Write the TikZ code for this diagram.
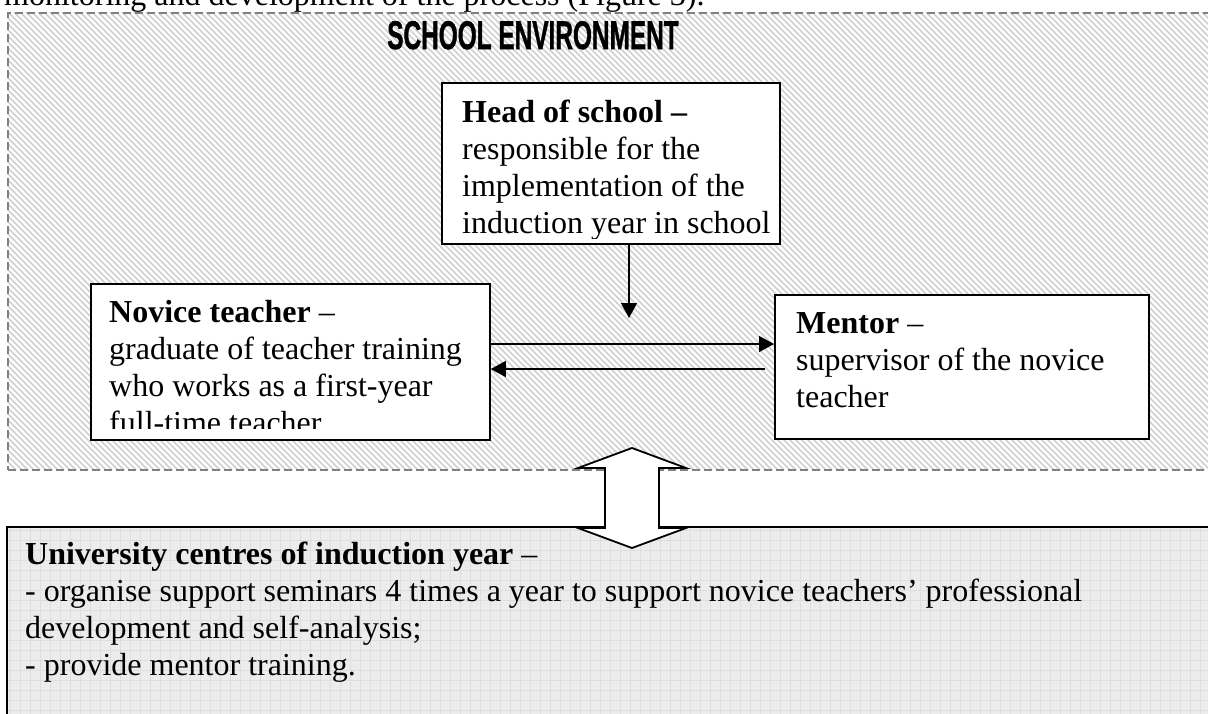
\documentclass[tikz,border=0pt]{standalone}
\usepackage{fontspec}
\setmainfont{Liberation Serif}
\newfontfamily\titlefont[FakeBold=1.5]{Liberation Sans Bold}
\usetikzlibrary{arrows.meta}

\definecolor{hatchgray}{RGB}{208,208,208}
\definecolor{framegray}{RGB}{128,128,128}
\definecolor{unifill}{RGB}{236,236,236}
\definecolor{unigrid}{RGB}{222,222,222}

\newcommand{\bodysize}{\fontsize{32}{37.3}\selectfont}
\newcommand{\boxlines}[1]{\parbox[t]{40cm}{\bodysize\raggedright #1}}

\begin{document}
\begin{tikzpicture}[x=1pt,y=-1pt,
  textbox/.style={draw=black, line width=1.8pt, fill=white, anchor=north west, inner sep=0pt},
  boxtext/.style={anchor=base west, inner sep=0pt},
  link/.style={line width=1.4pt, -{Triangle[length=15pt,width=16pt]}},
]
\useasboundingbox (0,0) rectangle (1208,713);

% last line of the running text above the figure
\node[boxtext] (caption) at (4,5) {\bodysize monitoring and development of the process (Figure 3).};

% school environment: hatched area with dashed frame
\begin{scope}
  \clip (7,12) rectangle (1220,469);
  \fill[white] (7,12) rectangle (1220,469);
  \foreach \i in {-460,-454,...,1220}
    \draw[hatchgray, line width=1.5pt] (\i,12) -- ++(460,460);
\end{scope}
\node[draw=framegray, dash pattern=on 8pt off 4pt, line width=1.6pt,
      anchor=north west, minimum width=1213pt, minimum height=457pt,
      inner sep=0pt] (school) at (7,12) {};

\node[anchor=base, inner sep=0pt,
      font=\titlefont\fontsize{40}{44}\selectfont] (title) at (533,49)
      {\scalebox{0.61}[1]{SCHOOL ENVIRONMENT}};

% university box: light grey grid paper
\begin{scope}
  \clip (6,526) rectangle (1220,720);
  \fill[unifill] (6,526) rectangle (1220,720);
  \foreach \i in {10,20,...,1220}
    \draw[unigrid, line width=0.7pt] (\i,526) -- (\i,720);
  \foreach \j in {530,540,...,720}
    \draw[unigrid, line width=0.7pt] (6,\j) -- (1220,\j);
\end{scope}
\node[draw=black, line width=1.8pt, anchor=north west, minimum width=1214pt,
      minimum height=200pt, inner sep=0pt] (uni) at (6,526) {};
\node[boxtext] (unitext) at (25,564) {\boxlines{%
  \textbf{University centres of induction year} --\\
  - organise support seminars 4 times a year to support novice teachers' professional\\
  development and self-analysis;\\
  - provide mentor training.}};

% the three actors
\node[textbox, minimum width=338pt, minimum height=161pt] (head) at (441,82) {};
\begin{scope}
  \clip (441,82) rectangle (779,238);
  \node[boxtext] (headtext) at (462,122) {\boxlines{%
    \textbf{Head of school --}\\
    responsible for the\\
    implementation of the\\
    induction year in school}};
\end{scope}

\node[textbox, minimum width=399pt, minimum height=156pt] (novice) at (90,283) {};
\begin{scope}
  \clip (90,283) rectangle (489,428);
  \node[boxtext] (novicetext) at (109,322) {\boxlines{%
    \textbf{Novice teacher} --\\
    graduate of teacher training\\
    who works as a first-year\\
    full-time teacher}};
\end{scope}

\node[textbox, minimum width=374pt, minimum height=144pt] (mentor) at (774,294) {};
\node[boxtext] (mentortext) at (796,333) {\boxlines{%
  \textbf{Mentor} --\\
  supervisor of the novice\\
  teacher}};

% relations
\coordinate (vtip) at (629,318);
\draw[link] (head.south -| vtip) -- (vtip);
\coordinate (rrow) at (0,344);
\draw[link] (novice.east |- rrow) -- (mentor.west |- rrow);
\coordinate (lstart) at (765,369);
\draw[link] (lstart) -- (novice.east |- lstart);

% two-way block arrow between school and university
\draw[line width=1.8pt, fill=white, line join=miter]
  (632,448) -- (686,468) -- (659,468) -- (659,528) -- (686,528) -- (632,548)
  -- (578,528) -- (605,528) -- (605,468) -- (578,468) -- cycle;
\end{tikzpicture}
\end{document}
